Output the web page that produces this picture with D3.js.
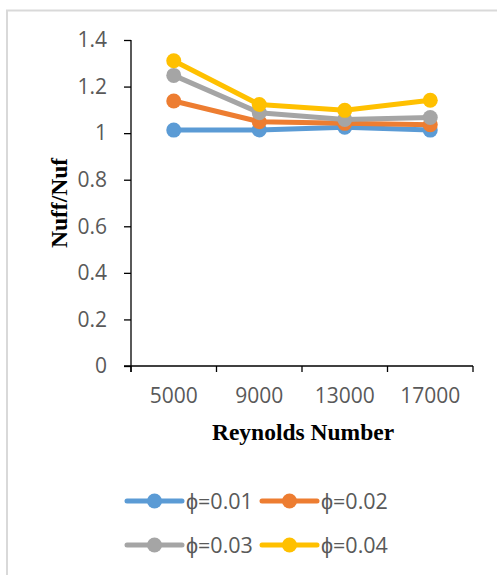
<!DOCTYPE html>
<html><head><meta charset="utf-8">
<script src="https://cdn.jsdelivr.net/npm/d3@7"></script>
<style>body{margin:0;background:#fff}svg{display:block}</style>
</head><body>
<script>
const categories = ["5000", "9000", "13000", "17000"];
const seriesNames = ["ϕ=0.01", "ϕ=0.02", "ϕ=0.03", "ϕ=0.04"];
const phi001 = [1.013, 1.014, 1.025, 1.013];
const phi002 = [1.138, 1.049, 1.042, 1.036];
const phi003 = [1.248, 1.088, 1.059, 1.067];
const phi004 = [1.311, 1.123, 1.098, 1.141];
const yTicks = [0, 0.2, 0.4, 0.6, 0.8, 1, 1.2, 1.4];
const colors = ["#5B9BD5", "#ED7D31", "#A5A5A5", "#FFC000"];
const allSeries = [phi001, phi002, phi003, phi004];

const W = 497, H = 575;
const svg = d3.select("body").append("svg").attr("width", W).attr("height", H);

// border
svg.append("path").attr("d", "M7,575 L7,10.5 L497,10.5").attr("fill","none")
  .attr("stroke","#d9d9d9").attr("stroke-width",2);

const x = d3.scaleBand().domain(categories).range([131, 473]);
const y = d3.scaleLinear().domain([0, 1.4]).range([366, 40]);

const tickFont = "'Open Sans', sans-serif";
const serif = "'Liberation Serif', 'Times New Roman', serif";
// y axis
const ya = svg.append("g").attr("transform","translate(131,0)")
  .call(d3.axisLeft(y).tickValues(yTicks).tickSize(7).tickPadding(17).tickFormat(d => d3.format("")(d)));
ya.select(".domain").attr("stroke","#000").attr("stroke-width",1.3).attr("d","M0,40V372");
ya.selectAll(".tick line").attr("stroke","#000").attr("stroke-width",1.3);
ya.selectAll("text").attr("fill","#595959").style("font-family",tickFont).style("font-size","21px");

// x axis
const xa = svg.append("g").attr("transform","translate(0,366)")
  .call(d3.axisBottom(x).tickSize(0));
xa.select(".domain").attr("stroke","#000").attr("stroke-width",1.3).attr("d","M124,0H473");
xa.selectAll("text").attr("y", 37).attr("dy", 0).attr("fill","#595959")
  .style("font-family",tickFont).style("font-size","21px");
const bounds = categories.map(c => x(c)).concat([x.range()[1]]);
svg.append("g").selectAll("line").data(bounds).join("line")
  .attr("x1", d => d).attr("x2", d => d).attr("y1", 366).attr("y2", 372)
  .attr("stroke","#000").attr("stroke-width",1.3);

// axis titles
svg.append("text").attr("x", 303).attr("y", 440).attr("text-anchor","middle")
  .style("font-family",serif).style("font-weight","bold")
  .style("font-size","23.5px").text("Reynolds Number");
svg.append("text").attr("transform","translate(67,203) rotate(-90)").attr("text-anchor","middle")
  .style("font-family",serif).style("font-weight","bold")
  .style("font-size","23.5px").text("Nuff/Nuf");

// series
const line = d3.line().x((d,i) => x(categories[i]) + x.bandwidth()/2).y(d => y(d));
allSeries.forEach((s, k) => {
  const g = svg.append("g");
  g.append("path").attr("d", line(s)).attr("fill","none").attr("stroke", colors[k])
    .attr("stroke-width", 5).attr("stroke-linejoin","round").attr("stroke-linecap","round");
  g.selectAll("circle").data(s).join("circle")
    .attr("cx", (d,i) => x(categories[i]) + x.bandwidth()/2).attr("cy", d => y(d))
    .attr("r", 7.5).attr("fill", colors[k]);
});

// legend
const legPos = [[127,501],[262,501],[127,545],[262,545]];
seriesNames.forEach((n, k) => {
  const [lx, ly] = legPos[k];
  const g = svg.append("g");
  g.append("line").attr("x1", lx).attr("x2", lx+55).attr("y1", ly).attr("y2", ly)
    .attr("stroke", colors[k]).attr("stroke-width", 5).attr("stroke-linecap","round");
  g.append("circle").attr("cx", lx+27.5).attr("cy", ly).attr("r", 7.5).attr("fill", colors[k]);
  g.append("text").attr("x", lx+59).attr("y", ly+8).attr("fill","#595959")
    .style("font-family",tickFont).style("font-size","21.5px").text(n);
});
</script>
</body></html>
